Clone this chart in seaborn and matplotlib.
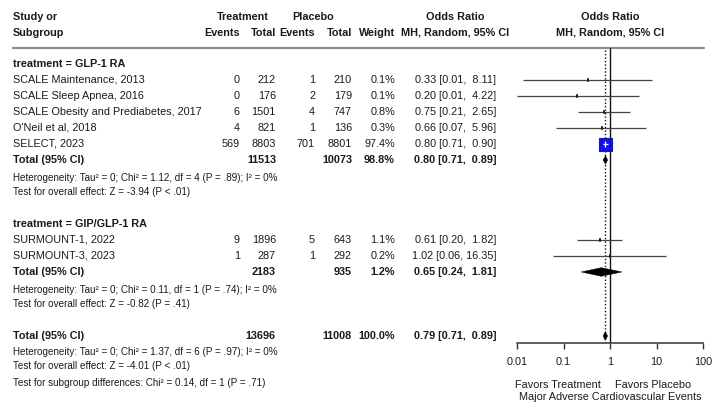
import numpy as np
import pandas as pd
import matplotlib
matplotlib.use("Agg")
import matplotlib.pyplot as plt
import seaborn as sns
from matplotlib import transforms
from matplotlib.ticker import NullLocator

# Study level data
study = ["SCALE Maintenance, 2013", "SCALE Sleep Apnea, 2016",
         "SCALE Obesity and Prediabetes, 2017", "O'Neil et al, 2018",
         "SELECT, 2023", "SURMOUNT-1, 2022", "SURMOUNT-3, 2023"]
group = [0, 0, 0, 0, 0, 1, 1]
t_events = [0, 0, 6, 4, 569, 9, 1]
t_total = [212, 176, 1501, 821, 8803, 1896, 287]
p_events = [1, 2, 4, 1, 701, 5, 1]
p_total = [210, 179, 747, 136, 8801, 643, 292]
weight = [0.1, 0.1, 0.8, 0.3, 97.4, 1.1, 0.2]
odds = [0.33, 0.20, 0.75, 0.66, 0.80, 0.61, 1.02]
ci_lo = [0.0135, 0.01, 0.21, 0.07, 0.71, 0.20, 0.06]
ci_hi = [8.11, 4.22, 2.65, 5.96, 0.90, 1.82, 16.35]

# Subgroup totals
group_labels = ["treatment = GLP-1 RA", "treatment = GIP/GLP-1 RA"]
sub_t_total = [11513, 2183]
sub_p_total = [10073, 935]
sub_weight = [98.8, 1.2]
sub_or = [0.80, 0.65]
sub_lo = [0.71, 0.24]
sub_hi = [0.89, 1.81]
sub_het = ["Heterogeneity: Tau\u00b2 = 0; Chi\u00b2 = 1.12, df = 4 (P = .89); I\u00b2 = 0%",
           "Heterogeneity: Tau\u00b2 = 0; Chi\u00b2 = 0.11, df = 1 (P = .74); I\u00b2 = 0%"]
sub_test = ["Test for overall effect: Z = -3.94 (P < .01)",
            "Test for overall effect: Z = -0.82 (P = .41)"]

# Overall
all_t_total = 13696
all_p_total = 11008
all_weight = 100.0
all_or, all_lo, all_hi = 0.79, 0.71, 0.89
all_het = "Heterogeneity: Tau\u00b2 = 0; Chi\u00b2 = 1.37, df = 6 (P = .97); I\u00b2 = 0%"
all_test = "Test for overall effect: Z = -4.01 (P < .01)"
subgroup_test = "Test for subgroup differences: Chi\u00b2 = 0.14, df = 1 (P = .71)"

tick_vals = [0.01, 0.1, 1, 10, 100]
tick_labels = ["0.01", "0.1", "1", "10", "100"]

sns.set_theme(style="white")
plt.rcParams["font.family"] = ["Liberation Sans", "DejaVu Sans"]

W, H = 718, 408
fig = plt.figure(figsize=(W / 100, H / 100), dpi=100)
ax = fig.add_axes([517 / W, 1 - 343 / H, 186 / W, 295 / H])

def fx(px):
    return px / W

blend = transforms.blended_transform_factory(fig.transFigure, ax.transData)
txt = "#1a1a1a"
fs = 7.8
fs_small = 7.1

def put(px, row, s, ha="right", bold=False, size=fs):
    ax.text(fx(px), row, s, transform=blend, ha=ha, va="center", fontsize=size,
            fontweight="bold" if bold else "normal", color=txt, clip_on=False)

def fmt_or(o, lo, hi):
    return f"{o:.2f} [{lo:.2f}, {hi:5.2f}]"

# row layout
df = pd.DataFrame(dict(study=study, group=group, or_=odds, lo=ci_lo, hi=ci_hi, w=weight))
rows = []
row = 0
total_rows = []
for g in range(len(group_labels)):
    put(13, row, group_labels[g], ha="left", bold=True)
    n = int((df.group == g).sum())
    rows += list(range(row + 1, row + 1 + n))
    total_rows.append(row + n + 1)
    row += n + 5
df["row"] = rows
overall_row = row

# headers
put(13, -2.94, "Study or", ha="left", bold=True)
put(13, -1.94, "Subgroup", ha="left", bold=True)
put(243, -2.94, "Treatment", ha="center", bold=True)
put(313, -2.94, "Placebo", ha="center", bold=True)
for px, s in [(240, "Events"), (276, "Total"), (315, "Events"), (352, "Total"), (395, "Weight")]:
    put(px, -1.94, s, bold=True)
put(455, -2.94, "Odds Ratio", ha="center", bold=True)
put(455, -1.94, "MH, Random, 95% CI", ha="center", bold=True)
put(610, -2.94, "Odds Ratio", ha="center", bold=True)
put(610, -1.94, "MH, Random, 95% CI", ha="center", bold=True)
ax.plot([fx(13), fx(704)], [-1, -1], transform=blend, color="#8c8c8c", lw=1.6, clip_on=False)

# study rows text
for i in range(len(study)):
    r = df.row[i]
    put(13, r, study[i], ha="left")
    put(240, r, str(t_events[i]))
    put(276, r, str(t_total[i]))
    put(315, r, str(p_events[i]))
    put(352, r, str(p_total[i]))
    put(395, r, f"{weight[i]:.1f}%")
    put(496, r, fmt_or(odds[i], ci_lo[i], ci_hi[i]))

# subgroup totals text
for g in range(len(group_labels)):
    r = total_rows[g]
    put(13, r, "Total (95% CI)", ha="left", bold=True)
    put(276, r, str(sub_t_total[g]), bold=True)
    put(352, r, str(sub_p_total[g]), bold=True)
    put(395, r, f"{sub_weight[g]:.1f}%", bold=True)
    put(496, r, fmt_or(sub_or[g], sub_lo[g], sub_hi[g]), bold=True)
    put(13, r + 1.1, sub_het[g], ha="left", size=fs_small)
    put(13, r + 2, sub_test[g], ha="left", size=fs_small)

put(13, overall_row, "Total (95% CI)", ha="left", bold=True)
put(276, overall_row, str(all_t_total), bold=True)
put(352, overall_row, str(all_p_total), bold=True)
put(395, overall_row, f"{all_weight:.1f}%", bold=True)
put(496, overall_row, fmt_or(all_or, all_lo, all_hi), bold=True)
put(13, overall_row + 1, all_het, ha="left", size=fs_small)
put(13, overall_row + 1.9, all_test, ha="left", size=fs_small)
put(13, overall_row + 2.95, subgroup_test, ha="left", size=fs_small)

# forest marks
ax.axvline(1, color="#111111", lw=1)
ax.axvline(all_or, color="#111111", lw=1, ls=(0, (1, 1.5)))
ax.hlines(df.row, df.lo, df.hi, color="#444444", lw=0.9)
side_px = np.maximum(13 * np.sqrt(df.w / df.w.max()), 2.0)
df["s"] = (side_px * 0.72) ** 2
df["big"] = df.w > 50
small = df[~df.big]
big = df[df.big]
sns.scatterplot(data=small, x="or_", y="row", marker="s", s=small.s, color="#111111",
                linewidth=0, legend=False, ax=ax, zorder=3)
ax.scatter(small.or_, small.row, marker="|", s=9, color="#222222", lw=1.1, zorder=3)
sns.scatterplot(data=big, x="or_", y="row", marker="s", s=big.s, color="#1010f0",
                edgecolor="#1a1a9a", linewidth=0.8, legend=False, ax=ax, zorder=3)
ax.hlines(big.row, big.lo, big.hi, color="white", lw=0.9, zorder=4)
ax.scatter(big.or_, big.row, marker="|", s=16, color="white", lw=0.9, zorder=4)

def diamond(r, o, lo, hi, h=0.27):
    ax.fill([lo, o, hi, o], [r, r - h, r, r + h], color="#000000", zorder=3, lw=0.3)

for g in range(len(group_labels)):
    diamond(total_rows[g], sub_or[g], sub_lo[g], sub_hi[g])
diamond(overall_row, all_or, all_lo, all_hi)

ax.set_xscale("log")
ax.set_xlim(0.01, 100)
ax.set_ylim(17.44, -1)
ax.set_xticks(tick_vals)
ax.set_xticklabels(tick_labels)
ax.xaxis.set_minor_locator(NullLocator())
ax.set_yticks([])
for sp in ["top", "left", "right"]:
    ax.spines[sp].set_visible(False)
ax.spines["bottom"].set_color("#333333")
ax.spines["bottom"].set_linewidth(1.1)
ax.tick_params(axis="x", direction="out", length=4, width=1, color="#333333",
               labelsize=fs, labelcolor=txt, pad=6, bottom=True)
ax.set_facecolor("none")
ax.set_xlabel("")
ax.set_ylabel("")

fig.text(fx(558), 1 - 385 / H, "Favors Treatment", ha="center", va="center", fontsize=fs, color=txt)
fig.text(fx(653), 1 - 385 / H, "Favors Placebo", ha="center", va="center", fontsize=fs, color=txt)
fig.text(fx(610), 1 - 397 / H, "Major Adverse Cardiovascular Events", ha="center", va="center",
         fontsize=fs, color=txt)

fig.savefig("out.png", dpi=100, facecolor="white")
